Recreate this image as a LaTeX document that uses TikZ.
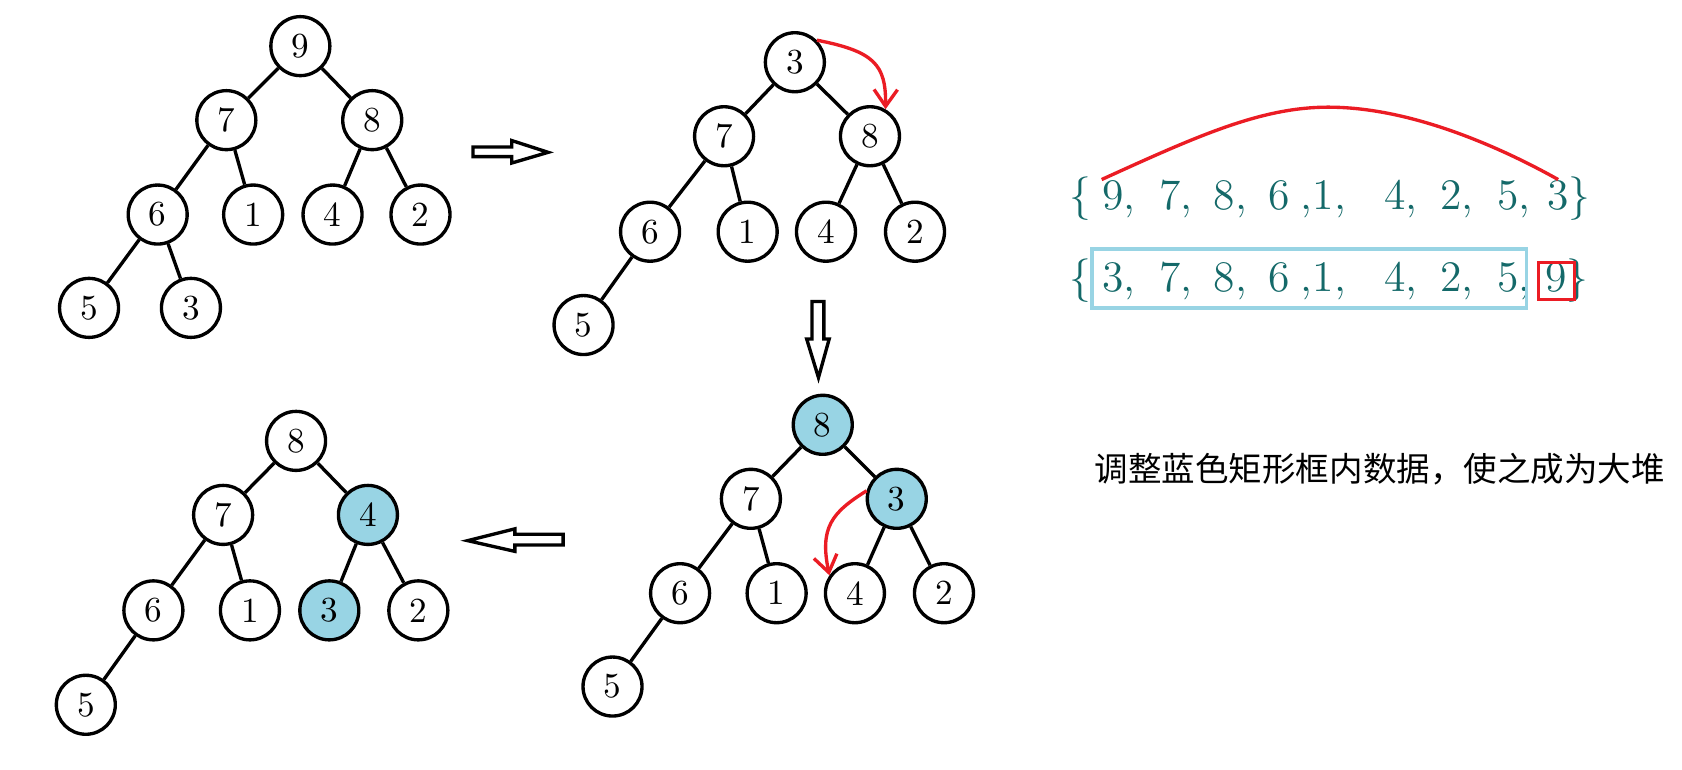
\documentclass[tikz,border=0pt]{standalone}
\usepackage{fontspec}
\newfontfamily\cjk{Noto Sans CJK SC}
\usetikzlibrary{arrows.meta}
\definecolor{heapblue}{RGB}{152,212,228}
\definecolor{seqteal}{RGB}{20,105,105}
\definecolor{swapred}{RGB}{235,28,36}
\tikzset{
  heap/.style={circle, draw, line width=1pt, minimum size=17.6pt, inner sep=0pt,
    font=\fontsize{10.5}{12}\selectfont},
  moved/.style={heap, fill=heapblue},
  edge/.style={line width=1pt},
  hollow/.style={draw, line width=1pt, line join=miter},
  swap/.style={draw=swapred, line width=1pt, -{Straight Barb[length=5pt,width=7pt]}},
  swapline/.style={draw=swapred, line width=1pt},
  seq/.style={anchor=base west, inner sep=0pt, text=seqteal,
    font=\fontsize{13}{15}\selectfont},
}
\begin{document}
\begin{tikzpicture}[x=0.32pt, y=-0.32pt]
    \useasboundingbox (0,0) rectangle (1568,717);
    % tree a
    \node[heap] (a1) at (280,43) {9};
    \node[heap] (a2) at (211,112) {7};
    \node[heap] (a3) at (347,112) {8};
    \node[heap] (a4) at (147,200) {6};
    \node[heap] (a5) at (236,200) {1};
    \node[heap] (a6) at (310,200) {4};
    \node[heap] (a7) at (392,200) {2};
    \node[heap] (a8) at (83,287) {5};
    \node[heap] (a9) at (178,287) {3};
    % tree b
    \node[heap] (b1) at (741,58) {3};
    \node[heap] (b2) at (675,127) {7};
    \node[heap] (b3) at (811,127) {8};
    \node[heap] (b4) at (606,216) {6};
    \node[heap] (b5) at (697,216) {1};
    \node[heap] (b6) at (770,216) {4};
    \node[heap] (b7) at (853,216) {2};
    \node[heap] (b8) at (544,303) {5};
    % tree c
    \node[moved] (c1) at (767,396) {8};
    \node[heap] (c2) at (700,465) {7};
    \node[moved] (c3) at (836,465) {3};
    \node[heap] (c4) at (634,553) {6};
    \node[heap] (c5) at (724,553) {1};
    \node[heap] (c6) at (797,553) {4};
    \node[heap] (c7) at (880,553) {2};
    \node[heap] (c8) at (571,640) {5};
    % tree d
    \node[heap] (d1) at (276,411) {8};
    \node[heap] (d2) at (208,480) {7};
    \node[moved] (d3) at (343,480) {4};
    \node[heap] (d4) at (143,569) {6};
    \node[heap] (d5) at (233,569) {1};
    \node[moved] (d6) at (307,569) {3};
    \node[heap] (d7) at (390,569) {2};
    \node[heap] (d8) at (80,657) {5};
    \foreach \t in {a,b,c,d} {
        \foreach \i/\p in {2/1,3/1,4/2,5/2,6/3,7/3,8/4} {
            \draw[edge] (\t\p) -- (\t\i);
        }
    }
    \draw[edge] (a4) -- (a9);
    % hollow arrows
    \draw[hollow] (441,137) -- (477,137) -- (477,131) -- (511,142)
        -- (477,152) -- (477,146) -- (441,146) -- cycle;
    \draw[hollow] (757,281) -- (768,281) -- (768,316) -- (773,316)
        -- (763,352) -- (752,316) -- (757,316) -- cycle;
    \draw[hollow] (525,498) -- (480,498) -- (480,493) -- (436,504)
        -- (480,514) -- (480,508) -- (525,508) -- cycle;
    % swaps
    \draw[swap] (b1.45) .. controls (815,48) and (826,60) .. (b3.60);
    \draw[swap] (c3.165) .. controls (775,478) and (764,492) .. (c6.145);
    % sequences
    \foreach \x/\d [count=\k] in {996/\{, 1027/{9,}, 1080/{7,}, 1131/{8,}, 1182/6,
        1212/{,1,}, 1290/{4,}, 1342/{2,}, 1395/{5,}, 1442/3, 1462/\}} {
        \node[seq] (top\k) at (\x,195) {\d};
    }
    \foreach \x/\d [count=\k] in {996/\{, 1027/{3,}, 1080/{7,}, 1131/{8,}, 1182/6,
        1212/{,1,}, 1290/{4,}, 1342/{2,}, 1395/{5,}, 1440/9, 1460/\}} {
        \node[seq] (low\k) at (\x,272) {\d};
    }
    \draw[swapline] (top2.north west) .. controls (1120,125) and (1180,98) .. (1245,100)
        .. controls (1320,102) and (1400,138) .. (top10.north);
    \draw[heapblue, line width=1pt] (1018,232) rectangle (1423,287);
    \draw[swapred, line width=1pt] (1434,245) rectangle (1468,279);
    \node[anchor=west, inner sep=0pt, font=\cjk\fontsize{10}{12}\selectfont] (note)
        at (1020,437) {调整蓝色矩形框内数据，使之成为大堆};
\end{tikzpicture}
\end{document}
